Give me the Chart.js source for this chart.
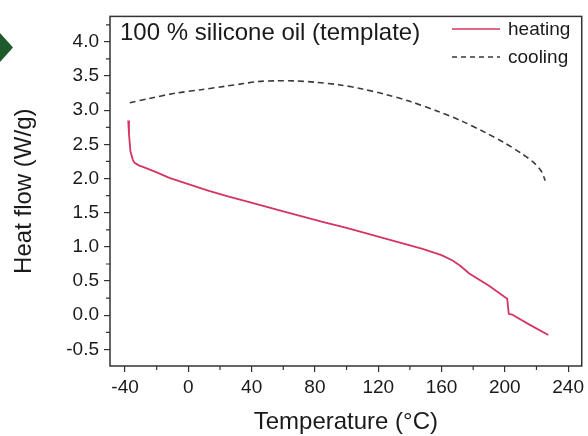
<!DOCTYPE html>
<html>
<head>
<meta charset="utf-8">
<title>DSC – silicone oil</title>
<script src="https://cdn.jsdelivr.net/npm/chart.js@4.4.1/dist/chart.umd.min.js"></script>
<style>
  html, body { margin: 0; padding: 0; background: #fff; }
  #wrap { position: relative; width: 588px; height: 436px; }
  #plot { position: absolute; left: 0; top: 0; }
  .marker {
    position: absolute; left: 0; top: 33px; width: 13px; height: 29px;
    background: #1f5a2a;
    clip-path: polygon(0 0, 100% 50%, 0 100%);
  }
</style>
</head>
<body>
<div id="wrap">
  <canvas id="plot" width="588" height="436"></canvas>
  <div class="marker"></div>
</div>
<script>
// heating run: temperature (°C) and heat flow (W/g)
const heatT = [-38, -37.5, -36.6, -35, -34, -31, -28.7, -20, -12, 0, 13, 25, 38, 49, 60, 86, 100, 120, 148, 160, 167, 172, 177.5, 190, 201.5, 202.5, 204.6, 215, 227.5];
const heatV = [2.85, 2.65, 2.40, 2.27, 2.23, 2.19, 2.17, 2.09, 2.01, 1.92, 1.82, 1.74, 1.66, 1.59, 1.52, 1.36, 1.28, 1.15, 0.97, 0.88, 0.80, 0.72, 0.61, 0.43, 0.24, 0.02, 0.01, -0.13, -0.29];

// cooling run
const coolT = [-37, -25, -8, 8, 23, 35, 44, 55, 67, 80, 96, 110, 125, 140, 157, 172, 188, 200, 211, 218, 223, 225.5];
const coolV = [3.11, 3.17, 3.25, 3.30, 3.35, 3.39, 3.42, 3.43, 3.43, 3.41, 3.37, 3.31, 3.23, 3.13, 2.99, 2.85, 2.67, 2.52, 2.36, 2.24, 2.11, 1.97];

// axis ticks
const xTicks = [-40, 0, 40, 80, 120, 160, 200, 240];
const xMinor = [-20, 20, 60, 100, 140, 180, 220];
const yTicks = [-0.5, 0, 0.5, 1.0, 1.5, 2.0, 2.5, 3.0, 3.5, 4.0];
const yMinor = [-0.25, 0.25, 0.75, 1.25, 1.75, 2.25, 2.75, 3.25, 3.75, 4.25];

const HEAT_COLOR = '#d4365f';
const COOL_COLOR = '#3a3a3a';
const INK = '#1a1a1a';
const FONT = '"Liberation Sans", Arial, sans-serif';

const toPoints = (xs, ys) => xs.map((x, i) => ({ x, y: ys[i] }));

// frame, minor ticks, caption and legend
const decorations = {
  id: 'decorations',
  afterDraw(chart) {
    const { ctx, chartArea: a, scales } = chart;
    ctx.save();
    ctx.strokeStyle = '#333';
    ctx.lineWidth = 1.5;
    ctx.strokeRect(a.left, a.top, a.right - a.left, a.bottom - a.top);

    ctx.lineWidth = 1.2;
    ctx.beginPath();
    xMinor.forEach(v => {
      const px = scales.x.getPixelForValue(v);
      ctx.moveTo(px, a.bottom);
      ctx.lineTo(px, a.bottom + 4);
    });
    yMinor.forEach(v => {
      const py = scales.y.getPixelForValue(v);
      ctx.moveTo(a.left, py);
      ctx.lineTo(a.left - 4, py);
    });
    ctx.stroke();

    ctx.fillStyle = INK;
    ctx.textBaseline = 'middle';
    ctx.font = '24px ' + FONT;
    ctx.fillText('100 % silicone oil (template)', a.left + 10, 33);

    ctx.font = '19px ' + FONT;
    ctx.lineWidth = 1.5;
    ctx.strokeStyle = HEAT_COLOR;
    ctx.beginPath();
    ctx.moveTo(452, 29);
    ctx.lineTo(500, 29);
    ctx.stroke();
    ctx.fillText('heating', 508, 30);

    ctx.strokeStyle = COOL_COLOR;
    ctx.setLineDash([5, 4]);
    ctx.beginPath();
    ctx.moveTo(452, 57);
    ctx.lineTo(500, 57);
    ctx.stroke();
    ctx.setLineDash([]);
    ctx.fillText('cooling', 508, 58);
    ctx.restore();
  }
};

const tickGrid = {
  drawOnChartArea: false,
  drawTicks: true,
  tickLength: 6,
  color: '#333',
  lineWidth: 1.2
};

new Chart(document.getElementById('plot'), {
  type: 'scatter',
  data: {
    datasets: [
      {
        label: 'heating',
        data: toPoints(heatT, heatV),
        showLine: true,
        borderColor: HEAT_COLOR,
        borderWidth: 1.8,
        pointRadius: 0,
        tension: 0
      },
      {
        label: 'cooling',
        data: toPoints(coolT, coolV),
        showLine: true,
        borderColor: COOL_COLOR,
        borderWidth: 1.6,
        borderDash: [6, 4],
        pointRadius: 0,
        tension: 0.3
      }
    ]
  },
  options: {
    responsive: false,
    animation: false,
    layout: { padding: { top: 15, right: 1, left: 0, bottom: 0 } },
    plugins: {
      legend: { display: false },
      tooltip: { enabled: false }
    },
    scales: {
      x: {
        type: 'linear',
        min: -49.5,
        max: 248.6,
        afterFit: s => { s.height = 70; },
        afterBuildTicks: s => { s.ticks = xTicks.map(value => ({ value })); },
        grid: tickGrid,
        border: { display: false },
        ticks: {
          autoSkip: false,
          maxRotation: 0,
          padding: 4,
          color: INK,
          font: { family: FONT, size: 19 },
          callback: v => String(v)
        },
        title: {
          display: true,
          text: 'Temperature (°C)',
          color: INK,
          font: { family: FONT, size: 24 },
          padding: { top: 0, bottom: -1 }
        }
      },
      y: {
        min: -0.743,
        max: 4.373,
        afterFit: s => { s.width = 110; },
        afterBuildTicks: s => { s.ticks = yTicks.map(value => ({ value })); },
        grid: tickGrid,
        border: { display: false },
        ticks: {
          padding: 5,
          color: INK,
          font: { family: FONT, size: 19 },
          callback: v => v.toFixed(1)
        },
        title: {
          display: true,
          text: 'Heat flow (W/g)',
          color: INK,
          font: { family: FONT, size: 24 },
          padding: { top: 10, bottom: 0 }
        }
      }
    }
  },
  plugins: [decorations]
});
</script>
</body>
</html>
